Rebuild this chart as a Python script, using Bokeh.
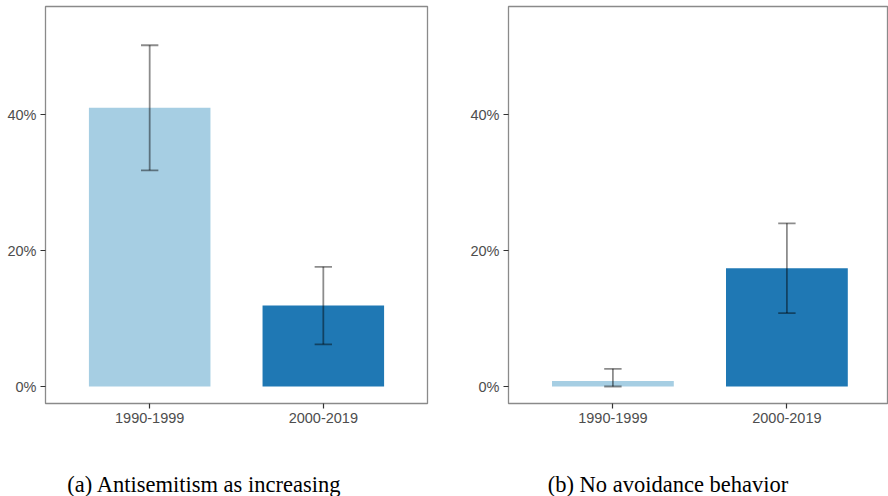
from bokeh.plotting import figure
from bokeh.layouts import column, row
from bokeh.models import Range1d, FixedTicker, ColumnDataSource
from bokeh.core.properties import value
from bokeh.embed import file_html
from bokeh.resources import INLINE

# ---- data ----
periods = ["1990-1999", "2000-2019"]
colors = ["#a6cee3", "#1f78b4"]

a_mean = [41.0, 11.9]
a_low = [31.8, 6.2]
a_high = [50.2, 17.6]

b_mean = [0.8, 17.4]
b_low = [0.0, 10.8]
b_high = [2.6, 24.0]

y_ticks = [0, 20, 40]
y_tick_labels = ["0%", "20%", "40%"]

captions = ["(a) Antisemitism as increasing", "(b) No avoidance behavior"]

Y0, Y1 = -2.5, 55.9


def panel(means, lows, highs, width, x_end, border_right):
    p = figure(width=width, height=440, output_backend="svg", toolbar_location=None,
               x_range=Range1d(0.4, x_end), y_range=Range1d(Y0, Y1),
               min_border_left=45, min_border_right=border_right,
               min_border_top=6, min_border_bottom=37)
    xs = list(range(1, len(means) + 1))
    src = ColumnDataSource(dict(x=xs, top=means, color=colors, low=lows, high=highs,
                                c0=[x - 0.05 for x in xs], c1=[x + 0.05 for x in xs]))
    p.vbar(x="x", top="top", bottom=0, width=0.7, fill_color="color", line_color=None, source=src)
    err = dict(line_color="black", line_alpha=0.45, line_width=1.8)
    p.segment(x0="x", x1="x", y0="low", y1="high", source=src, **err)
    p.segment(x0="c0", x1="c1", y0="low", y1="low", source=src, **err)
    p.segment(x0="c0", x1="c1", y0="high", y1="high", source=src, **err)

    p.xgrid.visible = False
    p.ygrid.visible = False
    p.outline_line_color = "#8a8a8a"
    p.outline_line_width = 1.3
    p.background_fill_color = "white"
    p.border_fill_color = "white"

    for ax in (p.xaxis[0], p.yaxis[0]):
        ax.axis_line_color = None
        ax.major_tick_line_color = "#333333"
        ax.major_tick_line_width = 1.2
        ax.major_tick_out = 5
        ax.major_tick_in = 0
        ax.minor_tick_line_color = None
        ax.major_label_text_color = "#4d4d4d"
        ax.major_label_text_font = "Liberation Sans"
        ax.major_label_text_font_size = "14.5px"

    p.xaxis.ticker = FixedTicker(ticks=xs)
    p.xaxis.major_label_overrides = {x: lab for x, lab in zip(xs, periods)}
    p.xaxis.major_label_standoff = 4
    p.yaxis.ticker = FixedTicker(ticks=y_ticks)
    p.yaxis.major_label_overrides = {t: lab for t, lab in zip(y_ticks, y_tick_labels)}
    p.yaxis.major_label_standoff = 4
    return p


# left panel: frame 45..427 ; right panel: frame 508..888 (174 px per category unit)
pa = panel(a_mean, a_low, a_high, 463, 2.6, 36)
pb = panel(b_mean, b_low, b_high, 425, 0.4 + 380 / 174, 0)

cap = figure(width=888, height=56, output_backend="svg", toolbar_location=None,
             x_range=Range1d(0, 888), y_range=Range1d(0, 56),
             min_border=0, outline_line_color=None)
cap.axis.visible = False
cap.grid.visible = False
cap.text(x=[204, 667.5], y=[12, 12], text=captions, text_align="center",
         text_baseline="alphabetic", text_font=value("Liberation Serif"),
         text_font_size="22.5px", text_color="black")

layout = column(row(pa, pb), cap)
open("out.html", "w").write(file_html(layout, INLINE))
